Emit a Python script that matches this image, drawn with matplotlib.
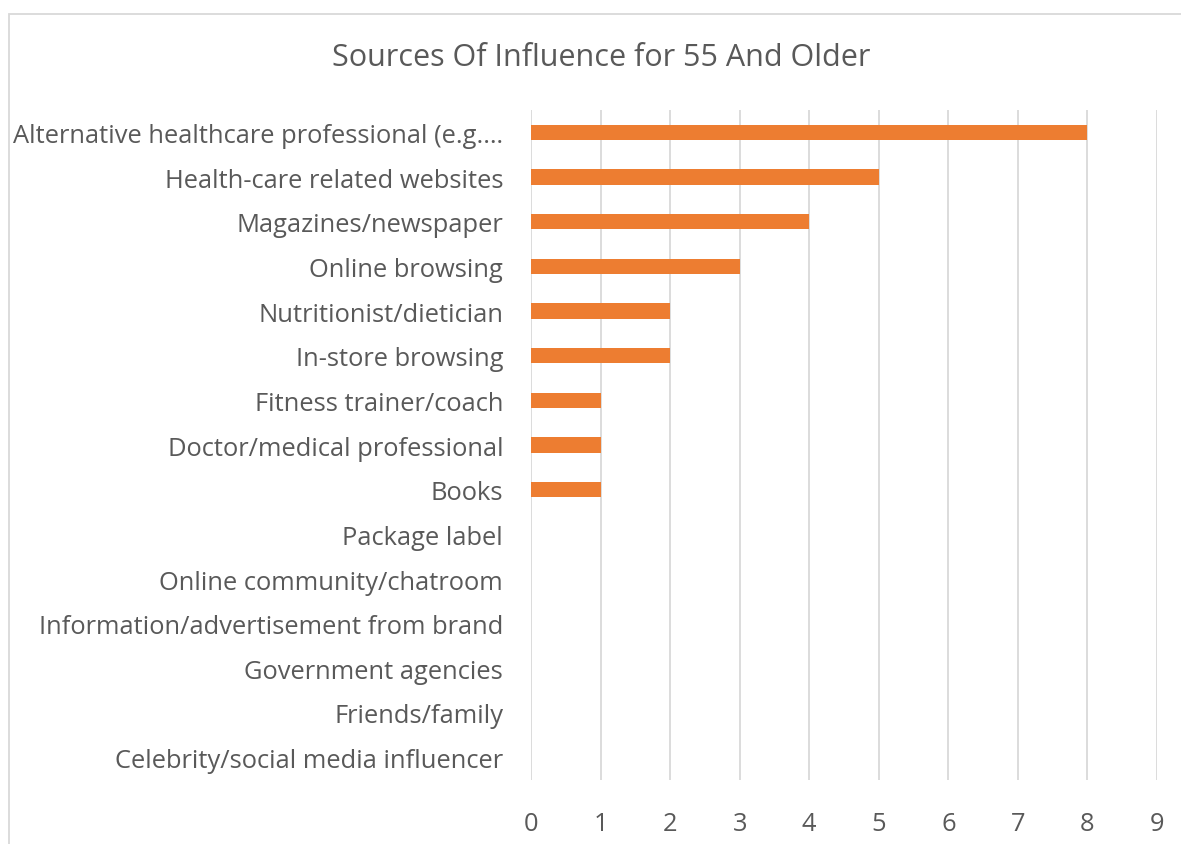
import matplotlib.pyplot as plt
from matplotlib.patches import Rectangle

sources = [
    "Alternative healthcare professional (e.g.\u2026",
    "Health-care related websites",
    "Magazines/newspaper",
    "Online browsing",
    "Nutritionist/dietician",
    "In-store browsing",
    "Fitness trainer/coach",
    "Doctor/medical professional",
    "Books",
    "Package label",
    "Online community/chatroom",
    "Information/advertisement from brand",
    "Government agencies",
    "Friends/family",
    "Celebrity/social media influencer",
]
counts = [8, 5, 4, 3, 2, 2, 1, 1, 1, 0, 0, 0, 0, 0, 0]

text_color = "#595959"
grid_color = "#D9D9D9"
plt.rcParams["font.family"] = ["Open Sans", "DejaVu Sans"]

fig = plt.figure(figsize=(11.81, 8.45), dpi=100)
ax = fig.add_axes([531 / 1181, 1 - 781 / 845, (1157 - 531) / 1181, (781 - 111) / 845])

ypos = range(len(sources))
ax.barh(ypos, counts, height=0.35, color="#ED7D31", zorder=3)
ax.set_yticks(list(ypos))
ax.set_yticklabels(sources)
ax.set_ylim(len(sources) - 0.5, -0.5)
ax.set_xlim(0, 9)
ax.set_xticks(range(10))

ax.grid(axis="x", color=grid_color, linewidth=1.3, zorder=0)
for s in ax.spines.values():
    s.set_visible(False)
ax.tick_params(axis="both", length=0, colors=text_color, labelsize=18.4)
ax.tick_params(axis="y", pad=20)
ax.tick_params(axis="x", pad=22)

fig.text(601 / 1181, 1 - 58 / 845, "Sources Of Influence for 55 And Older",
         ha="center", va="center", fontsize=22, color=text_color)

# chart frame, only partly inside the canvas
fig.patches.append(Rectangle((8.5 / 1181, -0.1), 1.2, 1.1 - 14.5 / 845,
                             transform=fig.transFigure, fill=False,
                             edgecolor=grid_color, linewidth=1.3))

fig.savefig("out.png", dpi=100)
